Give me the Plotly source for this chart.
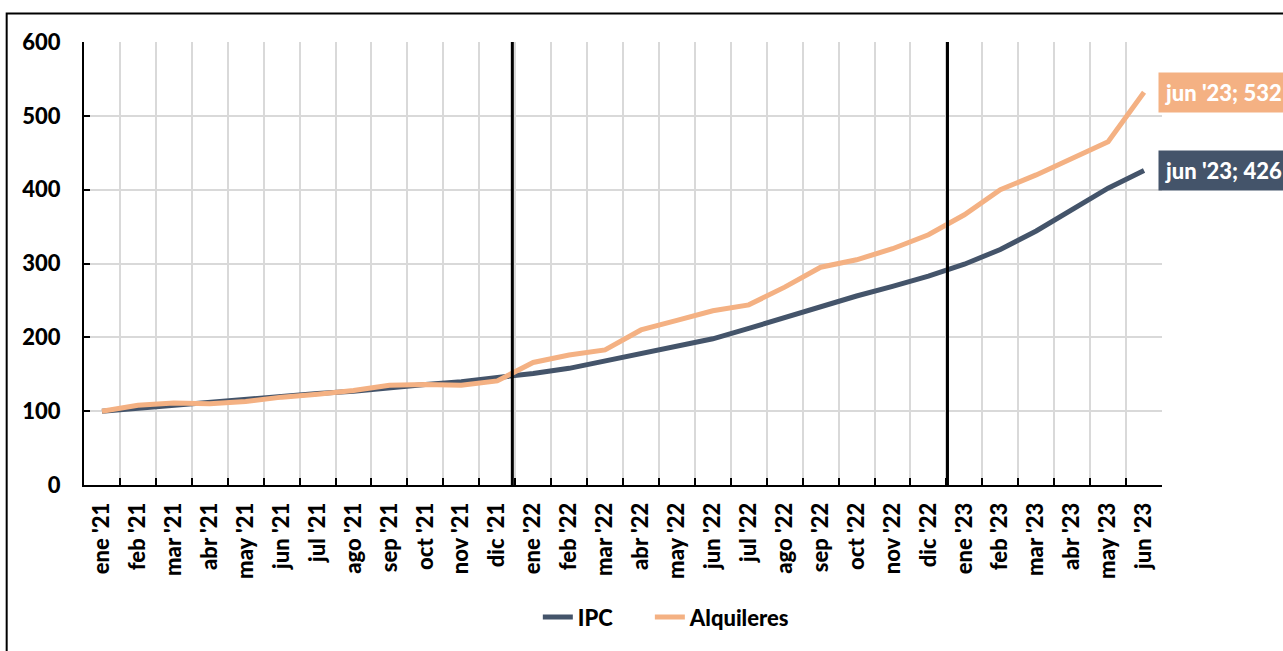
import plotly.graph_objects as go

months = ["ene '21", "feb '21", "mar '21", "abr '21", "may '21", "jun '21", "jul '21", "ago '21",
          "sep '21", "oct '21", "nov '21", "dic '21",
          "ene '22", "feb '22", "mar '22", "abr '22", "may '22", "jun '22", "jul '22", "ago '22",
          "sep '22", "oct '22", "nov '22", "dic '22",
          "ene '23", "feb '23", "mar '23", "abr '23", "may '23", "jun '23"]

ipc = [100, 104, 109, 113, 117, 121, 124, 127, 132, 136, 140, 145,
       151, 158, 168, 179, 188, 198, 212, 227, 241, 256, 269, 283,
       299, 319, 344, 373, 402, 426]

alquileres = [100, 108, 111, 110, 113, 119, 123, 128, 135, 136, 135, 141,
              166, 176, 183, 210, 223, 236, 244, 268, 295, 305, 320, 339,
              366, 400, 420, 442, 465, 532]

y_ticks = [0, 100, 200, 300, 400, 500, 600]
divider_positions = [11.42, 23.53]

IPC_COLOR = "#44546a"
ALQ_COLOR = "#f4b183"
FONT = "Lato"
WEIGHT = 900
FS = 22

W, H = 1283, 651
L, R, T, B = 84.3, 1162.0, 42.0, 484.8


def px_x(p):
    return (p - L) / (R - L)


def px_y(q):
    return (B - q) / (B - T)


fig = go.Figure()
fig.add_trace(go.Scatter(x=months, y=ipc, mode="lines", name="IPC", legend="legend",
                         line=dict(color=IPC_COLOR, width=5)))
fig.add_trace(go.Scatter(x=months, y=alquileres, mode="lines", name="Alquileres", legend="legend2",
                         line=dict(color=ALQ_COLOR, width=5)))

# vertical year dividers
for xp in divider_positions:
    fig.add_shape(type="line", xref="x", yref="y", x0=xp, x1=xp, y0=y_ticks[0], y1=y_ticks[-1],
                  line=dict(color="black", width=3), layer="above")

# outer frame
fig.add_shape(type="rect", xref="paper", yref="paper",
              x0=px_x(7), x1=px_x(1300), y0=px_y(670), y1=px_y(13.5),
              line=dict(color="black", width=2), fillcolor="rgba(0,0,0,0)")

# end labels
for series, color in ((alquileres, ALQ_COLOR), (ipc, IPC_COLOR)):
    fig.add_annotation(x=months[-1], y=series[-1], xref="x", yref="y",
                       text=f"{months[-1]}; {series[-1]}", showarrow=False,
                       xanchor="left", yanchor="middle", xshift=14,
                       bgcolor=color, borderpad=6,
                       font=dict(family=FONT, size=FS, color="white", weight=WEIGHT))

legend_font = dict(family=FONT, size=FS, color="black", weight=WEIGHT)
fig.update_layout(
    width=W, height=H,
    margin=dict(l=L, r=W - R, t=T, b=H - B, pad=0),
    paper_bgcolor="white", plot_bgcolor="white",
    font=dict(family=FONT, size=FS, color="black", weight=WEIGHT),
    showlegend=True,
    legend=dict(orientation="h", x=px_x(538), xanchor="left", y=px_y(617), yanchor="middle",
                font=legend_font, bgcolor="rgba(0,0,0,0)"),
    legend2=dict(orientation="h", x=px_x(650), xanchor="left", y=px_y(617), yanchor="middle",
                 font=legend_font, bgcolor="rgba(0,0,0,0)"),
)

fig.update_xaxes(type="category", range=[-0.5, len(months) - 0.5],
                 tickson="boundaries", ticks="inside", ticklen=7, tickcolor="black", tickwidth=2,
                 showgrid=True, gridcolor="#d9d9d9", gridwidth=2,
                 showline=True, linecolor="black", linewidth=2,
                 tickangle=-90, ticklabelstandoff=7,
                 tickfont=dict(family=FONT, size=FS, color="black", weight=WEIGHT))

fig.update_yaxes(range=[y_ticks[0], y_ticks[-1]], tickvals=y_ticks,
                 ticks="inside", ticklen=6, tickcolor="black", tickwidth=2,
                 showgrid=True, gridcolor="#d9d9d9", gridwidth=2, zeroline=False,
                 showline=True, linecolor="black", linewidth=2,
                 ticklabelstandoff=17,
                 tickfont=dict(family=FONT, size=FS, color="black", weight=WEIGHT))

fig.write_html("out.html", config={"displayModeBar": False},
               post_script="document.body.style.margin='0';document.body.style.overflow='hidden';")
